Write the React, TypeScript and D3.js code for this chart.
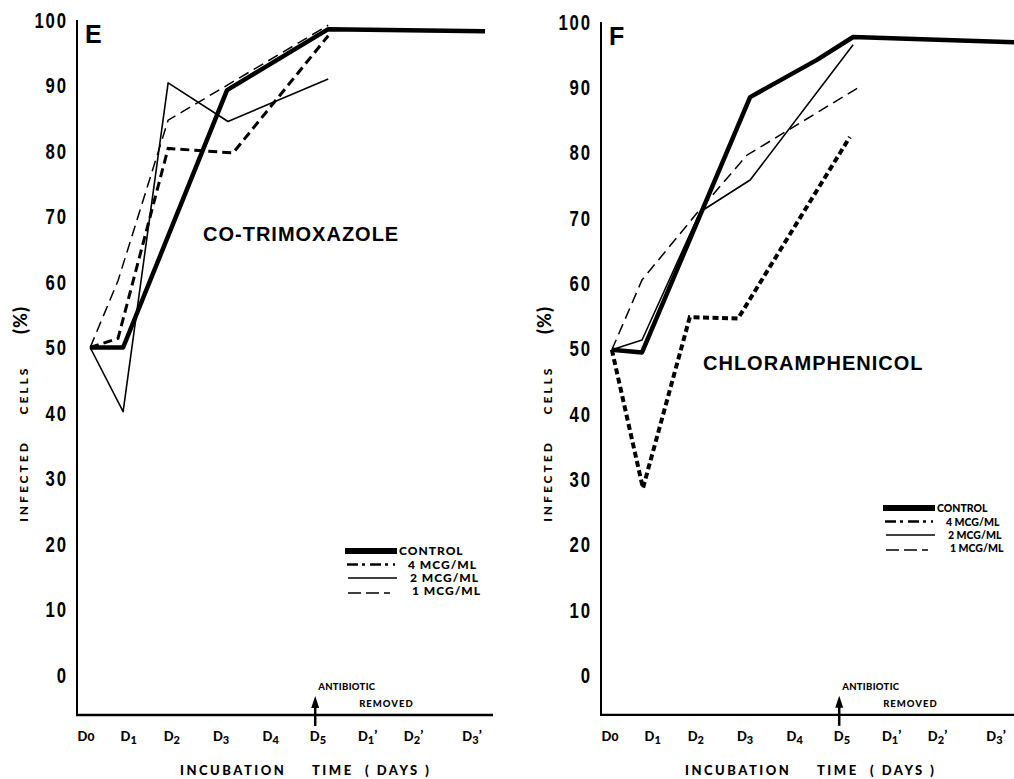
import * as d3 from 'd3'

type Pt = [number, number]

// x values in days, y values in % infected cells
const tickLabels = [['D', '0', ''], ['D', '1', ''], ['D', '2', ''], ['D', '3', ''], ['D', '4', ''], ['D', '5', ''], ['D', '1', '\u2019'], ['D', '2', '\u2019'], ['D', '3', '\u2019']]
const tickDays = [0, 0.92, 1.85, 2.91, 3.98, 5, 6.07, 7.06, 8.32]
const yTicks = [0, 10, 20, 30, 40, 50, 60, 70, 80, 90, 100]

const eControl: Pt[] = [[0.09, 50], [0.8, 50], [3.04, 89.3], [5.22, 98.6], [8.6, 98.3]]
const eMcg4: Pt[] = [[0.09, 50], [0.69, 51.4], [1.77, 80.4], [3.17, 79.7], [5.22, 97.6]]
const eMcg2: Pt[] = [[0.09, 50], [0.8, 40.2], [1.77, 90.4], [3.06, 84.5], [5.22, 91]]
const eMcg1: Pt[] = [[0.09, 50], [0.69, 60.2], [1.77, 84.7], [5.22, 99.2]]

const fControl: Pt[] = [[0.04, 49.8], [0.69, 49.4], [3.02, 88.5], [4.46, 94.2], [5.24, 97.7], [8.75, 96.9]]
const fMcg4: Pt[] = [[0.04, 49.8], [0.71, 28.6], [1.72, 54.8], [2.76, 54.6], [5.17, 82.4]]
const fMcg2: Pt[] = [[0.04, 49.8], [0.69, 51.3], [1.94, 70.9], [3.02, 75.8], [5.24, 96.5]]
const fMcg1: Pt[] = [[0.04, 49.8], [0.69, 60.5], [1.87, 70.7], [2.95, 79.6], [5.34, 89.9]]

const legendNames = ['CONTROL', '4 MCG/ML', '2 MCG/ML', '1 MCG/ML']
const removedDay = 4.94
const axisMin = -6.1

const numFont = "'Liberation Sans', Arial, sans-serif"
const labelFont = "Lato, 'DejaVu Sans', sans-serif"
const titleFont = "'Liberation Sans', Arial, sans-serif"

function Panel({ letter, drug, x0, yTop, axisRight, series, mcg4Dash, mcg4Width, drugPos, legendPos, titleX, legendSize, legendSpacing }: any) {
  const x = d3.scaleLinear().domain([0, 5]).range([x0, x0 + 5 * 46.4])
  const y = d3.scaleLinear().domain([0, 100]).range([675, yTop])
  const axisX = x0 - 9
  const axisY = y(axisMin)
  const line = d3.line<Pt>().x(d => x(d[0])).y(d => y(d[1]))
  const [control, mcg4, mcg2, mcg1] = series
  const ax = x(removedDay)

  const legendLines = [
    { dash: undefined, w: 6, x1: 0, x2: 52 },
    { dash: '11 4 3 5', w: 2.6, x1: 2, x2: 50 },
    { dash: undefined, w: 1.5, x1: 3, x2: 52 },
    { dash: '13 5', w: 1.5, x1: 3, x2: 45 },
  ]
  const lineOff = [0, 13.5, 27, 42]
  const textOff = [4, 17.5, 30.5, 43.5]
  const textX = [54, 63, 65, 67]

  return (
    <g>
      {/* axes */}
      <line x1={axisX} x2={axisX} y1={yTop} y2={axisY} stroke="#000" strokeWidth={2} />
      <line x1={axisX - 1} x2={axisRight} y1={axisY} y2={axisY} stroke="#000" strokeWidth={2.4} />
      {yTicks.map(t => (
        <text key={t} transform={`translate(${axisX - 9},${y(t)}) scale(0.76,1)`} textAnchor="end" dominantBaseline="central"
          fontFamily={numFont} fontWeight="bold" fontSize={22} letterSpacing={2.5}>{t}</text>
      ))}
      {tickDays.map((d, i) => (
        <text key={i} x={x(d)} y={741} textAnchor="middle" fontFamily={labelFont} fontWeight={900} fontSize={13}>
          {tickLabels[i][0]}<tspan dy={i === 0 ? 0 : 3} fontSize={i === 0 ? 12 : 11}>{tickLabels[i][1]}</tspan>
          {tickLabels[i][2] && <tspan dy={-4} fontSize={14}>{tickLabels[i][2]}</tspan>}
        </text>
      ))}
      <text y={775} fontFamily={labelFont} fontWeight={900} fontSize={13} letterSpacing={2.5}>
        <tspan x={titleX}>INCUBATION</tspan>
        <tspan x={titleX + 132}>TIME</tspan>
        <tspan x={titleX + 185}>( DAYS )</tspan>
      </text>
      <g fontFamily={labelFont} fontWeight={900} fontSize={12} letterSpacing={3} textAnchor="middle">
        <text transform={`translate(${axisX - 54},481) rotate(-90)`} dominantBaseline="central">INFECTED</text>
        <text transform={`translate(${axisX - 54},390) rotate(-90)`} dominantBaseline="central">CELLS</text>
        <text transform={`translate(${axisX - 57},320) rotate(-90)`} dominantBaseline="central" fontSize={18} letterSpacing={1}>(%)</text>
      </g>
      <text x={axisX + 8} y={yTop + 23} fontFamily={titleFont} fontWeight="bold" fontSize={25}>{letter}</text>
      <text x={drugPos[0]} y={drugPos[1]} fontFamily={titleFont} fontWeight="bold" fontSize={20} letterSpacing={1}>{drug}</text>

      {/* antibiotic removed */}
      <line x1={ax} x2={ax} y1={axisY - 10} y2={axisY + 11} stroke="#000" strokeWidth={2.5} />
      <path d={`M${ax},${axisY - 19} L${ax - 4},${axisY - 7} L${ax + 4},${axisY - 7} Z`} fill="#000" />
      <text x={ax + 3} y={axisY - 25} fontFamily={labelFont} fontWeight={900} fontSize={9.5} letterSpacing={0.3}>ANTIBIOTIC</text>
      <text x={ax + 44} y={axisY - 8} fontFamily={labelFont} fontWeight={900} fontSize={9.5} letterSpacing={1}>REMOVED</text>

      {/* series */}
      <path d={line(mcg1) || ''} fill="none" stroke="#000" strokeWidth={1.5} strokeDasharray="11 6" />
      <path d={line(mcg2) || ''} fill="none" stroke="#000" strokeWidth={1.6} strokeLinejoin="round" />
      <path d={line(mcg4) || ''} fill="none" stroke="#000" strokeWidth={mcg4Width} strokeDasharray={mcg4Dash} />
      <path d={line(control) || ''} fill="none" stroke="#000" strokeWidth={4.5} strokeLinejoin="round" />

      {/* legend */}
      {legendNames.map((n, i) => (
        <g key={n}>
          <line x1={legendPos[0] + legendLines[i].x1} x2={legendPos[0] + legendLines[i].x2}
            y1={legendPos[1] + lineOff[i]} y2={legendPos[1] + lineOff[i]}
            stroke="#000" strokeWidth={legendLines[i].w} strokeDasharray={legendLines[i].dash} />
          <text x={legendPos[0] + textX[i]} y={legendPos[1] + textOff[i]} fontFamily={labelFont}
            fontWeight={900} fontSize={legendSize} letterSpacing={legendSpacing}>{n}</text>
        </g>
      ))}
    </g>
  )
}

export default function App() {
  return (
    <svg width={1014} height={779} style={{ position: 'absolute', left: 0, top: 0, background: '#fff' }}>
      <rect width={1014} height={779} fill="#fff" />
      <Panel letter="E" drug="CO-TRIMOXAZOLE" x0={86} yTop={20} axisRight={493}
        series={[eControl, eMcg4, eMcg2, eMcg1]} mcg4Dash="9 5" mcg4Width={3}
        drugPos={[203, 241]} legendPos={[345, 551]} titleX={180} legendSize={12} legendSpacing={1} />
      <Panel letter="F" drug="CHLORAMPHENICOL" x0={610} yTop={22} axisRight={1016}
        series={[fControl, fMcg4, fMcg2, fMcg1]} mcg4Dash="6 3.5" mcg4Width={4}
        drugPos={[703, 370]} legendPos={[883, 508]} titleX={685} legendSize={10.5} legendSpacing={0} />
    </svg>
  )
}
